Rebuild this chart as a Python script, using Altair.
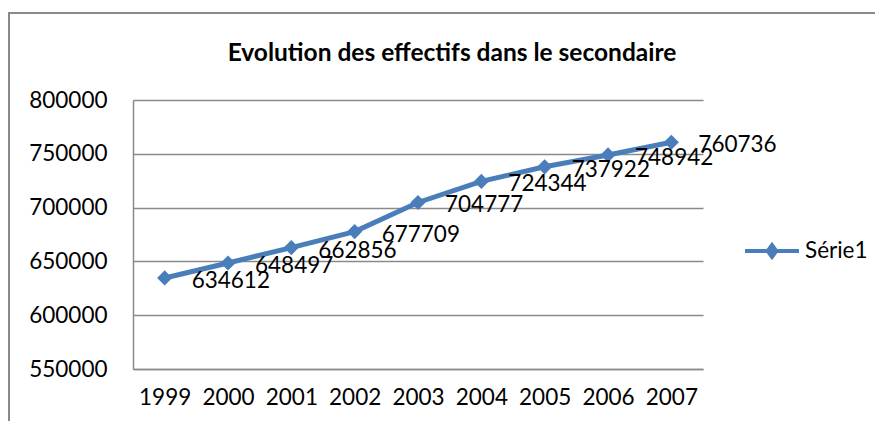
import altair as alt
import pandas as pd

years = ["1999", "2000", "2001", "2002", "2003", "2004", "2005", "2006", "2007"]
values = [634612, 648497, 662856, 677709, 704777, 724344, 737922, 748942, 760736]
series = ["Série1"] * len(years)
title_text = "Evolution des effectifs dans le secondaire"

df = pd.DataFrame({"annee": years, "effectif": values, "serie": series})

BLUE = "#4A7EBB"
GRAY = "#8A8A8A"
FONT = "Lato"

legend_path = "M-1,0 L1,0 M0,-0.22 L0.16,0 L0,0.22 L-0.16,0 Z"

x_enc = alt.X("annee:O", scale=alt.Scale(type="point", padding=0.5),
              axis=alt.Axis(title=None, labelAngle=0, ticks=False, domain=True,
                            domainColor=GRAY, domainWidth=1.5, labelPadding=17,
                            labelFontSize=22.5, labelFont=FONT, labelColor="#000"))
y_enc = alt.Y("effectif:Q", scale=alt.Scale(domain=[550000, 800000], nice=False, zero=False),
              axis=alt.Axis(title=None, values=[550000, 600000, 650000, 700000, 750000, 800000],
                            format="d", ticks=False, domain=True, domainColor=GRAY,
                            domainWidth=1.5, grid=True, gridColor=GRAY, gridWidth=1.5,
                            labelPadding=26, labelFontSize=22.5, labelFont=FONT,
                            labelColor="#000"))

base = alt.Chart(df)

line = base.mark_line(strokeWidth=5).encode(
    x=x_enc, y=y_enc,
    color=alt.Color("serie:N", scale=alt.Scale(domain=["Série1"], range=[BLUE]),
                    legend=alt.Legend(title=None, orient="none", legendX=610, legendY=122,
                                      symbolType=legend_path, symbolSize=2916,
                                      symbolStrokeWidth=4, symbolStrokeColor=BLUE,
                                      symbolFillColor=BLUE, labelFontSize=22.5,
                                      labelFont=FONT, labelColor="#000", labelOffset=4)),
)

points = base.mark_point(shape="diamond", filled=True, size=230, opacity=1, color=BLUE).encode(
    x=x_enc, y=y_enc,
)

labels = base.mark_text(align="left", baseline="middle", dx=27, dy=3, fontSize=22.5,
                        font=FONT, color="#000").encode(
    x=x_enc, y=y_enc, text=alt.Text("effectif:Q", format="d"),
)

one = alt.Data(values=[{"t": title_text}])

border = alt.Chart(one).mark_rect(
    fill=None, stroke=GRAY, strokeWidth=2, clip=False
).encode(
    x=alt.value(-124), y=alt.value(-87), x2=alt.value(900), y2=alt.value(600)
)

title = alt.Chart(one).mark_text(
    font=FONT, fontSize=24.5, fontWeight="bold", color="#000",
    align="center", baseline="alphabetic"
).encode(
    x=alt.value(319), y=alt.value(-39), text="t:N"
)

chart = alt.layer(border, line, points, labels, title).properties(
    width=570, height=269,
    autosize=alt.AutoSizeParams(type="none"),
    padding={"left": 125, "top": 92, "right": 172, "bottom": 52},
).configure_view(stroke=None)

chart.save("out.html", embed_options={"renderer": "svg", "actions": False})
